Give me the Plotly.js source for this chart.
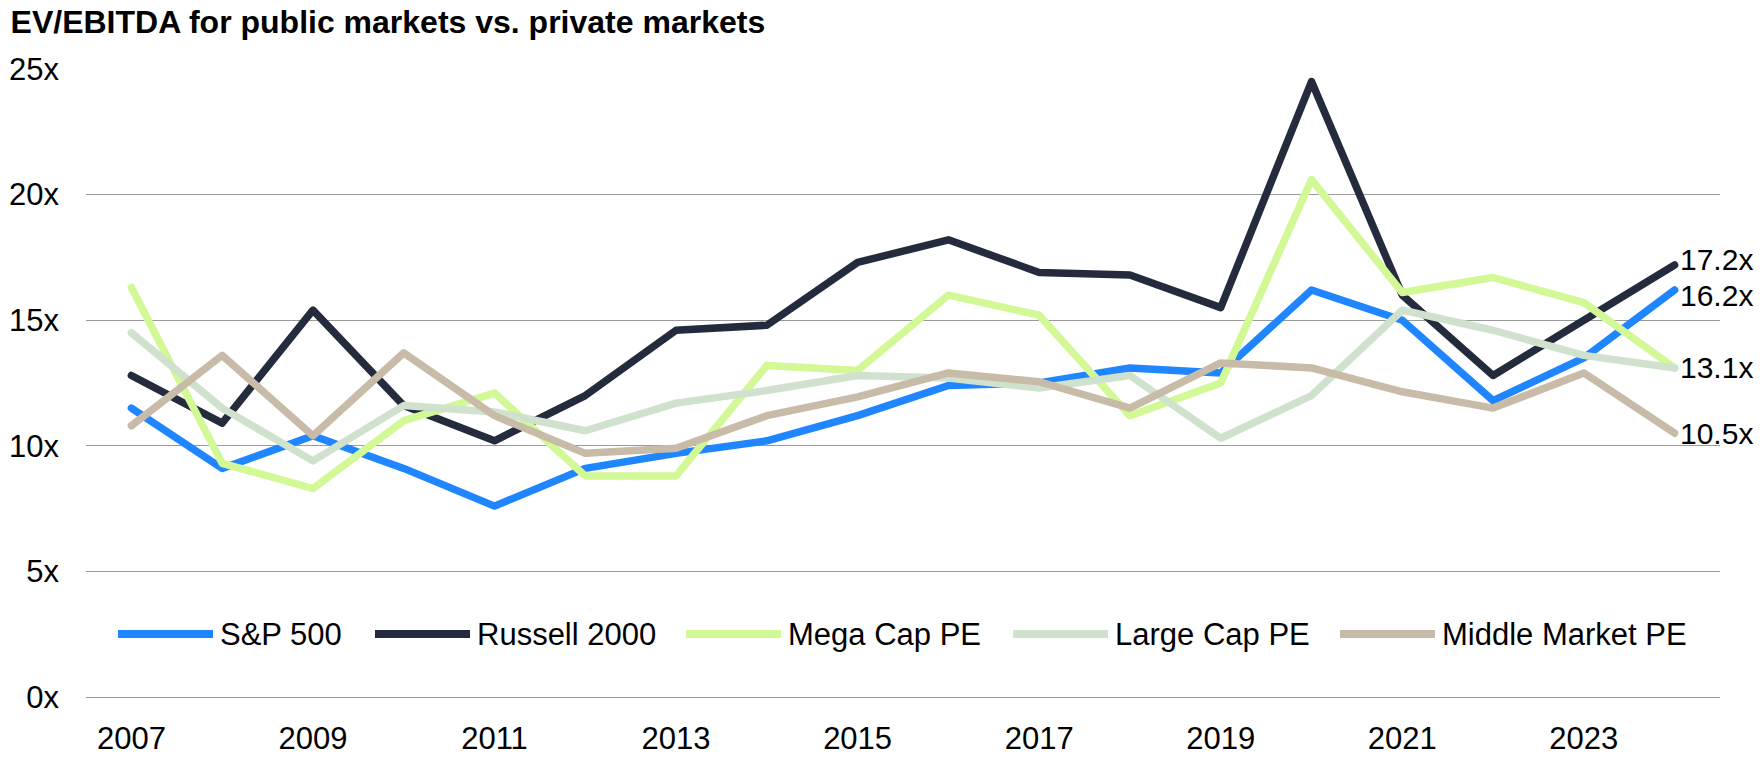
<!DOCTYPE html>
<html>
<head>
<meta charset="utf-8">
<script src="https://cdn.plot.ly/plotly-3.0.1.min.js"></script>
<style>
html, body { margin: 0; padding: 0; background: #ffffff; }
#chart { width: 1760px; height: 765px; }
.js-line { stroke-linejoin: round !important; stroke-linecap: round !important; }
</style>
</head>
<body>
<div id="chart"></div>
<script>
// ---- data ----
const years = ['2007','2008','2009','2010','2011','2012','2013','2014','2015','2016','2017','2018','2019','2020','2021','2022','2023','2024'];
const sp500        = [11.5, 9.1, 10.4, 9.1, 7.6, 9.1, 9.7, 10.2, 11.2, 12.4, 12.5, 13.1, 12.9, 16.2, 15.0, 11.8, 13.5, 16.2];
const russell2000  = [12.8, 10.9, 15.4, 11.6, 10.2, 12.0, 14.6, 14.8, 17.3, 18.2, 16.9, 16.8, 15.5, 24.5, 16.0, 12.8, 15.0, 17.2];
const megaCapPE    = [16.3, 9.3, 8.3, 11.0, 12.1, 8.8, 8.8, 13.2, 13.0, 16.0, 15.2, 11.2, 12.5, 20.6, 16.1, 16.7, 15.7, 13.1];
const largeCapPE   = [14.5, 11.5, 9.4, 11.6, 11.35, 10.6, 11.7, 12.2, 12.8, 12.7, 12.3, 12.8, 10.3, 12.0, 15.4, 14.6, 13.6, 13.1];
const middleMktPE  = [10.8, 13.6, 10.4, 13.7, 11.2, 9.7, 9.9, 11.2, 11.95, 12.9, 12.55, 11.5, 13.3, 13.1, 12.15, 11.5, 12.9, 10.5];

const seriesNames  = ['S&P 500', 'Russell 2000', 'Mega Cap PE', 'Large Cap PE', 'Middle Market PE'];
const seriesValues = [sp500, russell2000, megaCapPE, largeCapPE, middleMktPE];
const showEndLabel = [true, true, false, true, true];

const yTicks = [0, 5, 10, 15, 20, 25];
const xTicks = years.filter((y, i) => i % 2 === 0);

// ---- styles ----
const seriesColors = ['#1F86FF', '#232B3D', '#D3F896', '#D0E2CE', '#C8BCA9'];
const endLabelYShift = [-5, 5, 0, 0, 0];
const FONT = 'Liberation Sans, Arial, Helvetica, sans-serif';
const W = 1760, H = 765;
const M = { l: 86, r: 40, t: 69, b: 68 };
const plotW = W - M.l - M.r, plotH = H - M.t - M.b;
const px2x = px => (px - M.l) / plotW;
const py2y = py => (H - M.b - py) / plotH;

const legendLineStart = [118, 375, 686, 1013, 1340];
const legendLineLen = 95, legendGap = 5, legendY = 634;

const traces = seriesValues.map((vals, i) => ({
  type: 'scatter',
  mode: 'lines',
  x: years,
  y: vals,
  name: seriesNames[i],
  line: { color: seriesColors[i], width: 7.5 },
  cliponaxis: false,
  hoverinfo: 'x+y+name'
}));

const shapes = [], annotations = [];
seriesNames.forEach((name, i) => {
  const x0 = legendLineStart[i], x1 = x0 + legendLineLen;
  shapes.push({
    type: 'line', xref: 'paper', yref: 'paper',
    x0: px2x(x0), x1: px2x(x1), y0: py2y(legendY), y1: py2y(legendY),
    line: { color: seriesColors[i], width: 8 }, layer: 'above'
  });
  annotations.push({
    xref: 'paper', yref: 'paper', x: px2x(x1 + legendGap), y: py2y(legendY),
    xanchor: 'left', yanchor: 'middle', showarrow: false,
    text: name, font: { family: FONT, size: 31, color: '#000000' }
  });
  if (showEndLabel[i]) {
    const vals = seriesValues[i];
    const last = vals.length - 1;
    annotations.push({
      xref: 'x', yref: 'y', x: last, y: vals[last],
      xanchor: 'left', yanchor: 'middle', xshift: 3, yshift: endLabelYShift[i],
      showarrow: false, text: vals[last].toFixed(1) + 'x',
      font: { family: FONT, size: 30, color: '#000000' }
    });
  }
});

const layout = {
  width: W, height: H,
  margin: M,
  paper_bgcolor: '#ffffff', plot_bgcolor: '#ffffff',
  font: { family: FONT, size: 31, color: '#000000' },
  showlegend: false,
  title: {
    text: '<b>EV/EBITDA for public markets vs. private markets</b>',
    font: { family: FONT, size: 32, color: '#000000' },
    xref: 'container', yref: 'container',
    x: 0.006, xanchor: 'left', y: 0.971, yanchor: 'middle'
  },
  xaxis: {
    type: 'category',
    range: [-0.5, years.length - 0.5],
    tickmode: 'array', tickvals: xTicks, ticktext: xTicks,
    showgrid: false, zeroline: false, showline: false, ticks: '',
    ticklabelstandoff: 20,
    tickfont: { family: FONT, size: 31, color: '#000000' }
  },
  yaxis: {
    range: [0, 25],
    tickmode: 'array', tickvals: yTicks, ticktext: yTicks.map(v => v + 'x'),
    showgrid: true, gridcolor: '#9a9a9a', gridwidth: 1,
    zeroline: true, zerolinecolor: '#9a9a9a', zerolinewidth: 1,
    showline: false, ticks: '',
    ticklabelstandoff: 26,
    tickfont: { family: FONT, size: 31, color: '#000000' }
  },
  shapes: shapes,
  annotations: annotations
};

Plotly.newPlot('chart', traces, layout, { displayModeBar: false, staticPlot: true });
</script>
</body>
</html>
